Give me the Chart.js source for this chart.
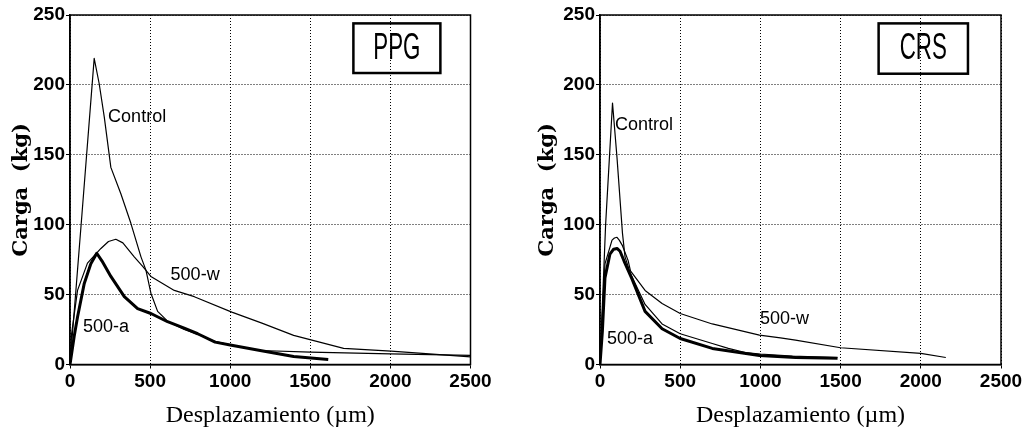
<!DOCTYPE html>
<html>
<head>
<meta charset="utf-8">
<script src="https://cdn.jsdelivr.net/npm/chart.js@4.4.1/dist/chart.umd.min.js"></script>
<style>
  html, body { margin: 0; padding: 0; background: #fff; }
  #wrap { position: relative; width: 1032px; height: 432px; }
  .pane { position: absolute; top: 0; width: 516px; height: 432px; }
</style>
</head>
<body>
<div id="wrap">
  <div class="pane" style="left:0"><canvas id="ppg"></canvas></div>
  <div class="pane" style="left:516px"><canvas id="crs"></canvas></div>
</div>
<script>
// ── DATA ──────────────────────────────────────────
const xTicks = [0, 500, 1000, 1500, 2000, 2500];
const yTicks = [0, 50, 100, 150, 200, 250];

// PPG
const ppgControlX = [0, 75, 151, 182, 214, 255, 318, 380, 443, 474, 505, 547, 609, 713, 800, 906, 1000, 1187, 1500, 2000, 2500];
const ppgControlY = [0, 108, 219, 201, 177, 141, 122, 101, 77, 67.5, 51, 38, 31, 25, 21.5, 16.5, 14, 10, 8.8, 7.6, 6.5];
const ppg500wX    = [0, 10, 47, 109, 193, 240, 286, 330, 401, 455, 505, 651, 776, 1010, 1198, 1396, 1504, 1708, 2004, 2200, 2500];
const ppg500wY    = [0, 22, 53, 72.5, 83, 88, 89.6, 87, 77, 70, 63, 53, 48.5, 37.5, 29.6, 20.8, 17.6, 11.5, 9.5, 8, 5.5];
const ppg500aX    = [0, 26, 47, 89, 130, 167, 200, 255, 339, 422, 505, 609, 713, 797, 906, 1000, 1187, 1396, 1612];
const ppg500aY    = [0, 20, 34, 58, 72, 79.6, 74, 63, 48.5, 40, 36.5, 30.6, 26, 22, 16, 14, 10, 5.7, 3.5];

// CRS
const crsControlX = [0, 35, 78, 106, 140, 156, 190, 281, 387, 500, 700, 800, 906, 1000, 1200, 1480];
const crsControlY = [0, 100, 187, 148, 94, 77, 65, 43, 29, 22, 15, 11.5, 8.6, 7.5, 6, 5];
const crs500wX    = [0, 15, 31, 75, 90, 106, 120, 140, 175, 190, 281, 387, 500, 700, 994, 1125, 1219, 1500, 2000, 2156];
const crs500wY    = [0, 35, 72, 89, 90.5, 91, 89, 85, 74.5, 67, 53, 43.7, 36.5, 29, 21, 19, 17.5, 12, 7.9, 5];
const crs500aX    = [0, 15, 31, 62, 85, 106, 125, 150, 200, 281, 387, 500, 700, 994, 1219, 1481];
const crs500aY    = [0, 24, 62, 79, 82.5, 83, 81, 74, 61, 38, 25.6, 18.6, 11.5, 6.4, 5, 4.5];

// etiquetas de curvas (posición en unidades de datos)
const curveLabels = ["Control", "500-w", "500-a"];
const ppgLabelX = [419, 781, 225];
const ppgLabelY = [177, 64, 27];
const crsLabelX = [275, 1150, 187];
const crsLabelY = [171, 32.6, 18.3];

// recuadro con el nombre del material
const ppgBoxX = [1769, 2312], ppgBoxY = [208.5, 244];
const crsBoxX = [1737, 2294], crsBoxY = [208, 244];

// ── HELPERS ──────────────────────────────────────
const pts = (xs, ys) => xs.map((x, i) => ({ x, y: ys[i] }));

function ds(label, xs, ys, width) {
  return {
    label,
    data: pts(xs, ys),
    borderColor: "#000",
    borderWidth: width,
    borderJoinStyle: "round",
    pointRadius: 0,
    tension: 0,
    fill: false,
  };
}

function decor(name, lx, ly, bx, by) {
  return {
    id: "decor",
    afterDraw(chart) {
      const { ctx, chartArea: a, scales: { x, y } } = chart;
      ctx.save();
      // marco
      ctx.strokeStyle = "#000";
      ctx.lineWidth = 1.5;
      ctx.strokeRect(a.left, a.top, a.right - a.left, a.bottom - a.top);
      // etiquetas
      ctx.fillStyle = "#000";
      ctx.font = "18px 'Liberation Sans', Arial, sans-serif";
      ctx.textAlign = "center";
      ctx.textBaseline = "middle";
      curveLabels.forEach((t, i) =>
        ctx.fillText(t, x.getPixelForValue(lx[i]), y.getPixelForValue(ly[i])));
      // recuadro
      const x1 = x.getPixelForValue(bx[0]), x2 = x.getPixelForValue(bx[1]);
      const y1 = y.getPixelForValue(by[1]), y2 = y.getPixelForValue(by[0]);
      ctx.lineWidth = 2.5;
      ctx.strokeRect(x1, y1, x2 - x1, y2 - y1);
      ctx.translate((x1 + x2) / 2, (y1 + y2) / 2 + 1);
      ctx.scale(0.62, 1);
      ctx.font = "36px 'Liberation Sans', Arial, sans-serif";
      ctx.fillText(name, 0, 0);
      ctx.restore();
    },
  };
}

function makeChart(id, name, sets, lx, ly, bx, by, yWidth, padRight, yTitlePad) {
  const tickFont = { family: "'Liberation Sans', Arial, sans-serif", size: 19, weight: "bold" };
  return new Chart(document.getElementById(id), {
    type: "line",
    data: { datasets: sets },
    plugins: [decor(name, lx, ly, bx, by)],
    options: {
      responsive: true,
      maintainAspectRatio: false,
      animation: false,
      layout: { padding: { top: 15, right: padRight, left: 0, bottom: 0 } },
      plugins: { legend: { display: false }, tooltip: { enabled: false } },
      scales: {
        x: {
          type: "linear", min: 0, max: 2500,
          afterBuildTicks: s => { s.ticks = xTicks.map(v => ({ value: v })); },
          afterFit: s => { s.height = 432 - 364.5; },
          ticks: { color: "#000", font: tickFont, padding: 2, maxRotation: 0,
                   callback: v => String(v) },
          grid: { color: "#000", lineWidth: 1, tickLength: 4 },
          border: { display: true, color: "#000", width: 1.5, dash: [1, 2] },
          title: {
            display: true, text: "Desplazamiento (µm)", color: "#000",
            font: { family: "'Liberation Serif', 'Times New Roman', serif", size: 24 },
            padding: { top: 0, bottom: 2 },
          },
        },
        y: {
          type: "linear", min: 0, max: 250,
          afterBuildTicks: s => { s.ticks = yTicks.map(v => ({ value: v })); },
          afterFit: s => { s.width = yWidth; },
          ticks: { color: "#000", font: tickFont, padding: 1,
                   callback: v => String(v) },
          grid: { color: "#000", lineWidth: 1, tickLength: 4 },
          border: { display: true, color: "#000", width: 1.5, dash: [1, 2] },
          title: {
            display: true, text: "Carga  (kg)", color: "#000",
            font: { family: "'DejaVu Serif', serif", size: 21, weight: "bold" },
            padding: { top: yTitlePad, bottom: 0 },
          },
        },
      },
    },
  });
}

// ── START ────────────────────────────────────────
makeChart("ppg", "PPG", [
  ds("Control", ppgControlX, ppgControlY, 1.2),
  ds("500-w",   ppg500wX,    ppg500wY,    1.2),
  ds("500-a",   ppg500aX,    ppg500aY,    3),
], ppgLabelX, ppgLabelY, ppgBoxX, ppgBoxY, 70, 45.5, 9);

makeChart("crs", "CRS", [
  ds("Control", crsControlX, crsControlY, 1.2),
  ds("500-w",   crs500wX,    crs500wY,    1.2),
  ds("500-a",   crs500aX,    crs500aY,    3),
], crsLabelX, crsLabelY, crsBoxX, crsBoxY, 84, 31, 19);
</script>
</body>
</html>
